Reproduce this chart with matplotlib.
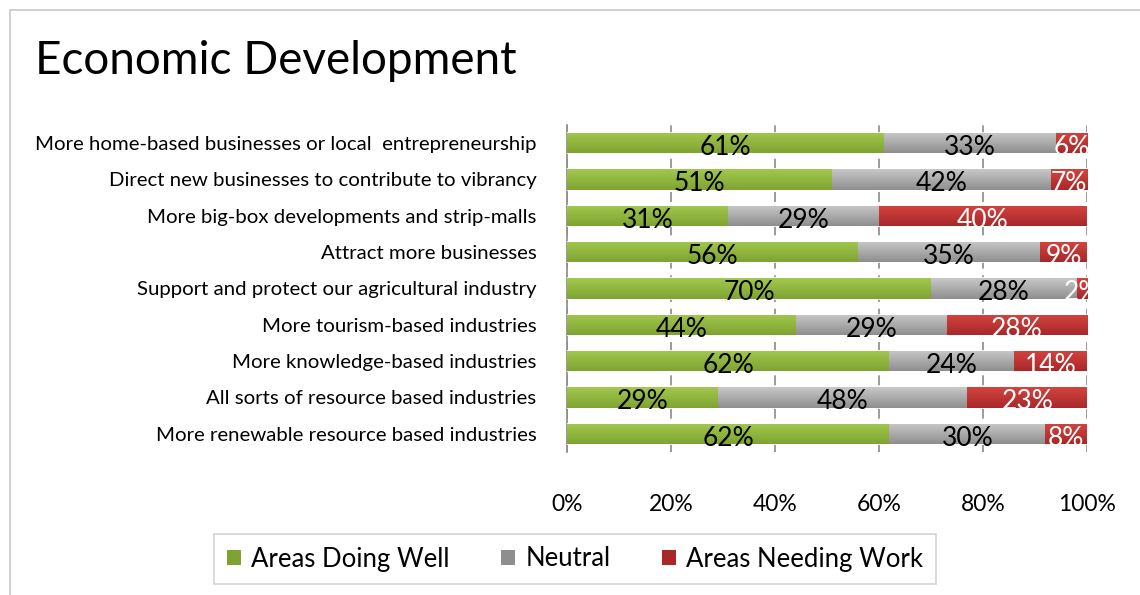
import numpy as np
import matplotlib
matplotlib.use("Agg")
import matplotlib.pyplot as plt
import matplotlib.patches as patches
from matplotlib.colors import LinearSegmentedColormap

plt.rcParams['font.family'] = ['Lato', 'DejaVu Sans']

categories = [
    "More home-based businesses or local  entrepreneurship",
    "Direct new businesses to contribute to vibrancy",
    "More big-box developments and strip-malls",
    "Attract more businesses",
    "Support and protect our agricultural industry",
    "More tourism-based industries",
    "More knowledge-based industries",
    "All sorts of resource based industries",
    "More renewable resource based industries",
]
doing_well = [61, 51, 31, 56, 70, 44, 62, 29, 62]
neutral = [33, 42, 29, 35, 28, 29, 24, 48, 30]
needing_work = [6, 7, 40, 9, 2, 28, 14, 23, 8]
series_names = ["Areas Doing Well", "Neutral", "Areas Needing Work"]
xticks = [0, 20, 40, 60, 80, 100]

colors = [("#a2c84e", "#7fa331"), ("#c8c8c8", "#8e8e8e"), ("#d4443f", "#a8282a")]
text_colors = ["black", "black", "white"]

fig = plt.figure(figsize=(11.4, 5.95), dpi=100)
ax = fig.add_axes([567 / 1140, 1 - 452 / 595, 520 / 1140, 327 / 595])

y = np.arange(len(categories))
left = np.zeros(len(categories))
bar_h = 0.56
for vals, (c_top, c_bot), tc, name in zip([doing_well, neutral, needing_work],
                                          colors, text_colors, series_names):
    vals = np.array(vals, dtype=float)
    bars = ax.barh(y, vals, left=left, height=bar_h, color=c_bot,
                   edgecolor="white", linewidth=1.2, label=name, zorder=3)
    cmap = LinearSegmentedColormap.from_list("g", [c_top, c_bot])
    grad = np.linspace(0, 1, 50).reshape(-1, 1)
    for b in bars:
        x0, y0 = b.get_x(), b.get_y()
        w, h = b.get_width(), b.get_height()
        x1 = min(x0 + w, 100)
        im = ax.imshow(grad, cmap=cmap, aspect="auto", zorder=3.5,
                       extent=[x0, x1, y0 + h, y0], origin="upper")
        im.set_clip_path(b)
    for yi, l, v in zip(y, left, vals):
        cx = (l + min(l + v, 100)) / 2
        ax.text(cx, yi + 0.12, f"{int(v)}%", ha="center", va="center",
                fontsize=19, color=tc, zorder=5)
    left += vals

ax.set_xlim(0, 100)
ax.set_ylim(len(categories) - 0.5, -0.5)
ax.set_yticks(y)
ax.set_yticklabels(categories, fontsize=14.7)
ax.set_xticks(xticks)
ax.set_xticklabels([f"{t}%" for t in xticks], fontsize=16.5)
ax.tick_params(axis="y", length=0, pad=22)
ax.tick_params(axis="x", length=0, pad=30)
ax.grid(axis="x", color="#8a8a8a", linestyle=(0, (6, 4)), linewidth=1.2, zorder=0)
for s in ["top", "right", "bottom"]:
    ax.spines[s].set_visible(False)
ax.spines["left"].set_color("#8a8a8a")
ax.spines["left"].set_linewidth(1.2)

fig.text(35 / 1140, 1 - 61 / 595, "Economic Development", fontsize=33,
         ha="left", va="center")

handles = [patches.Patch(facecolor=c[1]) for c in colors]
leg = fig.legend(handles, series_names, loc="center",
                 bbox_to_anchor=(575 / 1140, 1 - 559 / 595), ncol=3,
                 fontsize=18.5, frameon=True, fancybox=False,
                 handlelength=0.55, handleheight=0.55, handletextpad=0.4,
                 columnspacing=2.0, borderpad=0.5, borderaxespad=0)
leg.get_frame().set_edgecolor("#c8c8c8")
leg.get_frame().set_linewidth(1.2)

# outer chart frame (only top and left visible in the crop)
fig.add_artist(patches.Rectangle((10 / 1140, -0.1), 1.2, 1 - 10 / 595 + 0.1,
                                 transform=fig.transFigure, fill=False,
                                 edgecolor="#c8c8c8", linewidth=1.2))

fig.savefig("out.png", dpi=100)
